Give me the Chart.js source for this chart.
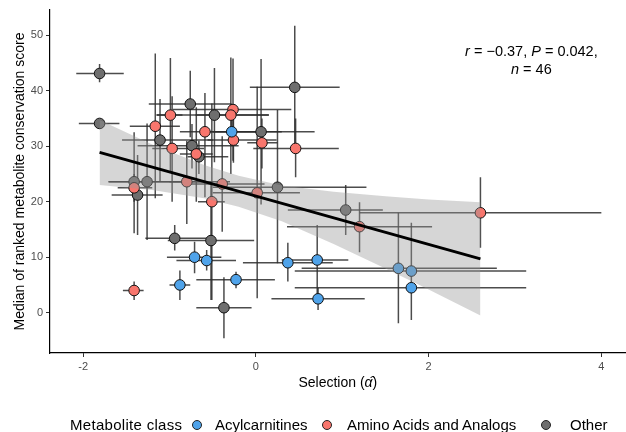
<!DOCTYPE html>
<html>
<head>
<meta charset="utf-8">
<script src="https://cdn.jsdelivr.net/npm/chart.js@4.4.0/dist/chart.umd.min.js"></script>
<style>
  body { margin: 0; background: #fff; overflow: hidden; }
  #wrap { position: relative; width: 626px; height: 432px; overflow: hidden; font-family: 'Liberation Sans', Arial, sans-serif; }
  #chart { position: absolute; left: 0; top: 0; }
  #legend span { position: absolute; font-size: 15px; line-height: 17px; top: 416px; color: #000; white-space: nowrap; }
  #legend i { position: absolute; top: 420px; width: 8px; height: 8px; border-radius: 50%; border: 1px solid #222; }
</style>
</head>
<body>
<div id="wrap">
  <!-- a little wider than the page so the panel runs to the right edge like the original -->
  <canvas id="chart" width="632" height="432"></canvas>
  <div id="legend">
    <span style="left:70px;letter-spacing:0.3px">Metabolite class</span>
    <i style="left:192px;background:#4FA3EA"></i><span style="left:215px">Acylcarnitines</span>
    <i style="left:322px;background:#F8766D"></i><span style="left:347px">Amino Acids and Analogs</span>
    <i style="left:541px;background:#6E6E6E"></i><span style="left:570px">Other</span>
  </div>
</div>
<script>
// Metabolite points: selection estimate, median rank score and their intervals
const pointClass = [
  'Other','Other','Other','Other','Other','Other','Other','Other','Other',
  'Other','Other','Other','Other','Other','Other','Other','Other',
  'Amino','Amino','Amino','Amino','Amino','Amino','Amino','Amino','Amino',
  'Amino','Amino','Amino','Amino','Amino','Amino','Amino','Amino','Amino',
  'Acyl','Acyl','Acyl','Acyl','Acyl','Acyl','Acyl','Acyl','Acyl','Acyl','Acyl'
];
const selX  = [-1.81,-1.81,-0.76,-0.48,0.06,0.45,-0.74,-1.11,-0.66,-1.41,-1.26,-1.37,0.25,1.04,-0.94,-0.52,-0.37,
               -1.165,-0.99,-0.265,-0.29,-0.26,0.07,0.46,-0.59,-0.97,-0.69,-1.41,-0.80,-0.39,0.015,-0.51,1.20,-1.41,2.60,
               -0.28,-0.71,-0.57,-0.88,-0.23,0.37,0.71,0.72,1.65,1.80,1.80];
const xLow  = [-2.08,-2.05,-1.24,-1.15,-0.50,-0.07,-1.37,-1.55,-0.79,-1.71,-1.70,-1.67,-0.50,0.37,-1.28,-1.02,-0.69,
               -1.46,-1.15,-0.96,-0.70,-0.56,-0.10,-0.03,-0.88,-1.20,-0.88,-1.60,-1.00,-0.80,-0.50,-0.67,0.36,-1.54,1.20,
               -0.60,-1.03,-0.92,-1.00,-0.69,-0.15,0.30,0.18,0.53,0.45,0.45];
const xHigh = [-1.53,-1.58,-0.28,0.15,0.68,0.97,-0.20,-0.50,-0.32,-0.73,-0.60,-1.08,1.28,1.47,-0.57,-0.02,-0.05,
               -0.88,-0.85,0.41,0.15,0.24,0.25,0.96,0.30,-0.60,-0.50,-1.20,-0.30,0.10,0.51,-0.36,2.04,-1.30,4.00,
               0.05,-0.40,-0.23,-0.76,0.22,0.89,1.07,1.26,2.79,3.13,3.13];
const scoreY = [43.1,34.1,37.6,35.6,32.6,40.6,30.1,31.1,28.1,23.6,23.6,21.2,22.6,18.5,13.4,13.0,0.9,
                33.6,35.6,36.6,35.6,31.1,30.6,29.6,32.6,29.6,28.6,22.5,23.6,23.2,21.6,20.0,15.5,4.0,18.0,
                32.6,10.0,9.4,5.0,5.95,9.0,9.5,2.5,8.0,7.5,4.5];
const yLow  = [41.5,33.6,31.6,27.1,19.5,29.5,26.0,23.7,25.0,14.3,13.1,14.0,8.9,14.0,11.2,2.3,-4.6,
               20.6,25.3,27.4,25.0,27.0,26.0,24.4,20.8,20.0,20.0,20.0,16.0,14.6,2.6,2.3,10.9,2.3,11.7,
               30.0,7.1,7.6,2.3,4.4,5.6,3.2,0.5,-1.9,-1.3,3.5];
const yHigh = [44.8,34.6,43.6,44.1,45.7,51.7,34.0,38.5,31.0,32.5,34.1,28.4,36.5,23.0,15.8,23.7,6.4,
               46.7,45.9,45.8,46.0,35.0,35.0,35.0,39.6,39.0,37.0,25.0,31.0,31.8,40.7,37.7,19.9,5.6,24.4,
               35.0,12.8,11.3,7.6,7.4,12.6,15.8,4.5,18.0,16.2,5.5];

// fitted line and its confidence band
const fitX = [-1.81, 2.60];
const fitY = [28.87, 9.69];
const bandX     = [-1.81, -1.2, -0.6, -0.2, 0.3, 0.9, 1.5, 2.0, 2.6];
const bandUpper = [34.72, 30.32, 26.61, 24.67, 22.90, 21.79, 20.98, 20.40, 19.89];
const bandLower = [23.02, 22.12, 20.61, 19.07, 16.50, 12.39, 7.98, 4.20, -0.51];

const xTicks = [-2, 0, 2, 4];
const yTicks = [0, 10, 20, 30, 40, 50];
const classes = ['Acyl', 'Amino', 'Other'];
const classColors = { Acyl: '#4FA3EA', Amino: '#F8766D', Other: '#6E6E6E' };
const statsAt = [3.19, 47.0, 43.7];
const FONT = '"Liberation Sans", Arial, sans-serif';

function classPoints(cls) {
    const pts = [];
    pointClass.forEach((c, i) => {
        if (c === cls) pts.push({ x: selX[i], y: scoreY[i] });
    });
    return pts;
}

// error bars go under every dataset
const errorBars = {
    id: 'errorBars',
    beforeDatasetsDraw(chart) {
        const { ctx, chartArea, scales } = chart;
        ctx.save();
        ctx.beginPath();
        ctx.rect(chartArea.left, chartArea.top, chartArea.right - chartArea.left, chartArea.bottom - chartArea.top);
        ctx.clip();
        ctx.strokeStyle = 'rgba(45,45,45,0.85)';
        ctx.lineWidth = 1.5;
        selX.forEach((x, i) => {
            const px = scales.x.getPixelForValue(x);
            const py = scales.y.getPixelForValue(scoreY[i]);
            ctx.beginPath();
            ctx.moveTo(scales.x.getPixelForValue(xLow[i]), py);
            ctx.lineTo(scales.x.getPixelForValue(xHigh[i]), py);
            ctx.moveTo(px, scales.y.getPixelForValue(yLow[i]));
            ctx.lineTo(px, scales.y.getPixelForValue(yHigh[i]));
            ctx.stroke();
        });
        ctx.restore();
    }
};

// draws a row of text pieces, some italic, centred on cx
function drawMixed(ctx, parts, cx, cy, size) {
    const fontFor = it => (it ? 'italic ' : '') + size + 'px ' + FONT;
    let total = 0;
    parts.forEach(p => { ctx.font = fontFor(p[1]); total += ctx.measureText(p[0]).width; });
    let x = cx - total / 2;
    parts.forEach(p => {
        ctx.font = fontFor(p[1]);
        ctx.fillText(p[0], x, cy);
        x += ctx.measureText(p[0]).width;
    });
}

// r / P / n annotation and the x title with italic alpha hat
const textBits = {
    id: 'textBits',
    afterDraw(chart) {
        const { ctx, scales, chartArea } = chart;
        ctx.save();
        ctx.fillStyle = '#000';
        ctx.textBaseline = 'middle';
        const cx = scales.x.getPixelForValue(statsAt[0]);
        drawMixed(ctx, [['r', true], [' = \u22120.37, ', false], ['P', true], [' = 0.042,', false]],
            cx, scales.y.getPixelForValue(statsAt[1]), 14.5);
        drawMixed(ctx, [['n', true], [' = 46', false]], cx, scales.y.getPixelForValue(statsAt[2]), 14.5);
        drawMixed(ctx, [['Selection (', false], ['\u03B1\u0302', true], [')', false]],
            (chartArea.left + chartArea.right) / 2, 383, 14);
        ctx.restore();
    }
};

const pointSets = classes.map(cls => ({
    type: 'scatter',
    label: cls,
    data: classPoints(cls),
    backgroundColor: classColors[cls],
    borderColor: '#111',
    borderWidth: 1,
    pointRadius: 5.3,
    order: 3
}));

new Chart(document.getElementById('chart'), {
    type: 'scatter',
    data: {
        datasets: [
            ...pointSets,
            {
                type: 'line',
                data: bandX.map((x, i) => ({ x: x, y: bandUpper[i] })),
                borderWidth: 0,
                pointRadius: 0,
                backgroundColor: 'rgba(153,153,153,0.4)',
                fill: '+1',
                order: 2
            },
            {
                type: 'line',
                data: bandX.map((x, i) => ({ x: x, y: bandLower[i] })),
                borderWidth: 0,
                pointRadius: 0,
                fill: false,
                order: 2
            },
            {
                type: 'line',
                data: fitX.map((x, i) => ({ x: x, y: fitY[i] })),
                borderColor: '#000',
                borderWidth: 2.8,
                pointRadius: 0,
                fill: false,
                order: 1
            }
        ]
    },
    options: {
        responsive: false,
        animation: false,
        layout: { padding: { top: 10, left: 0, right: 0, bottom: 39 } },
        plugins: {
            legend: { display: false },
            tooltip: { enabled: false }
        },
        scales: {
            x: {
                type: 'linear',
                min: -2.384,
                max: 4.282,
                afterBuildTicks: scale => { scale.ticks = xTicks.map(v => ({ value: v })); },
                afterFit: scale => { scale.height = 40; },
                grid: { display: true, drawOnChartArea: false, drawTicks: true, tickLength: 4, color: '#333' },
                border: { display: true, color: '#000', width: 1.2 },
                ticks: { color: '#4D4D4D', padding: 3, font: { size: 11, family: FONT } }
            },
            y: {
                type: 'linear',
                min: -7.26,
                max: 54.54,
                afterBuildTicks: scale => { scale.ticks = yTicks.map(v => ({ value: v })); },
                afterFit: scale => { scale.width = 50; },
                grid: { display: true, drawOnChartArea: false, drawTicks: true, tickLength: 4, color: '#333' },
                border: { display: true, color: '#000', width: 1.2 },
                ticks: { color: '#4D4D4D', padding: 3, font: { size: 11, family: FONT } },
                title: {
                    display: true,
                    text: 'Median of ranked metabolite conservation score',
                    color: '#000',
                    padding: { top: 12, bottom: 0 },
                    font: { size: 14, family: FONT }
                }
            }
        }
    },
    plugins: [errorBars, textBits]
});
</script>
</body>
</html>
